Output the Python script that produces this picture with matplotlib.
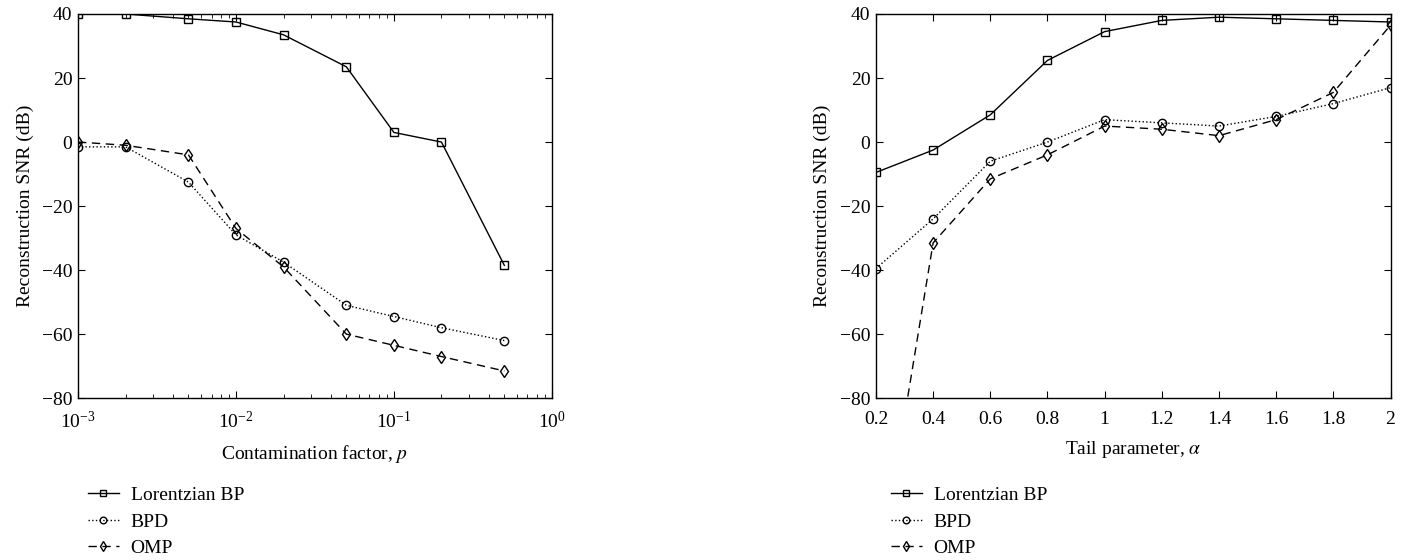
import matplotlib.pyplot as plt

plt.rcParams['font.family'] = ['Liberation Serif', 'DejaVu Serif']
plt.rcParams['mathtext.fontset'] = 'stix'

# contamination factor sweep
p_vals = [1e-3, 2e-3, 5e-3, 1e-2, 2e-2, 5e-2, 0.1, 0.2, 0.5]
lbp_p = [40, 40, 38.5, 37.5, 33.5, 23.5, 3, 0, -38.5]
bpd_p = [-1.5, -1.5, -12.5, -29, -37.5, -51, -54.5, -58, -62]
omp_p = [0, -1, -4, -27, -39, -60, -63.5, -67, -71.5]

# tail parameter sweep
alpha_vals = [0.2, 0.4, 0.6, 0.8, 1.0, 1.2, 1.4, 1.6, 1.8, 2.0]
lbp_a = [-9.5, -2.5, 8.5, 25.5, 34.5, 38, 39, 38.5, 38, 37.5]
bpd_a = [-39.5, -24, -6, 0, 7, 6, 5, 8, 12, 17]
omp_a = [-140, -31.5, -11.5, -4, 5, 4, 2, 7, 15.5, 36.5]

labels = ['Lorentzian BP', 'BPD', 'OMP']

fig = plt.figure(figsize=(14.06, 5.6), dpi=100)
ax1 = fig.add_axes([0.0555, 0.289, 0.337, 0.686])
ax2 = fig.add_axes([0.623, 0.289, 0.366, 0.686])

mk = dict(color='black', markerfacecolor='none', markeredgecolor='black',
          markersize=6, markeredgewidth=1, linewidth=1)


def draw(ax, x, a, b, c):
    ax.plot(x, a, linestyle='-', marker='s', label=labels[0], **mk)
    ax.plot(x, b, linestyle=':', marker='o', label=labels[1], **mk)
    ax.plot(x, c, linestyle=(0, (6, 4)), marker='d', label=labels[2], **mk)
    ax.set_ylim(-80, 40)
    ax.set_yticks([-80, -60, -40, -20, 0, 20, 40])
    ax.set_yticklabels(['\u221280', '\u221260', '\u221240', '\u221220', '0', '20', '40'])
    ax.tick_params(direction='in', top=True, right=True, labelsize=14, length=5)
    ax.tick_params(axis='x', pad=9)
    ax.tick_params(axis='y', pad=4)
    ax.tick_params(which='minor', direction='in', top=True, right=True, length=3)
    ax.set_ylabel('Reconstruction SNR (dB)', fontsize=14, labelpad=6)
    for s in ax.spines.values():
        s.set_linewidth(1)


draw(ax1, p_vals, lbp_p, bpd_p, omp_p)
ax1.set_xscale('log')
ax1.set_xlim(1e-3, 1)
ax1.set_xlabel('Contamination factor, $p$', fontsize=14, labelpad=8)

draw(ax2, alpha_vals, lbp_a, bpd_a, omp_a)
ax2.set_xlim(0.2, 2)
ax2.set_xticks(alpha_vals)
ax2.set_xticklabels(['0.2', '0.4', '0.6', '0.8', '1', '1.2', '1.4', '1.6', '1.8', '2'])
ax2.set_xlabel('Tail parameter, $\\alpha$', fontsize=14, labelpad=8)

for ax, x0 in [(ax1, 0.057), (ax2, 0.628)]:
    h, l = ax.get_legend_handles_labels()
    fig.legend(h, l, loc='upper left', bbox_to_anchor=(x0, 0.145), frameon=False,
               fontsize=14, handlelength=1.6, handletextpad=0.6, labelspacing=0.45,
               markerscale=0.8, borderaxespad=0)

fig.savefig('out.png', dpi=100)
